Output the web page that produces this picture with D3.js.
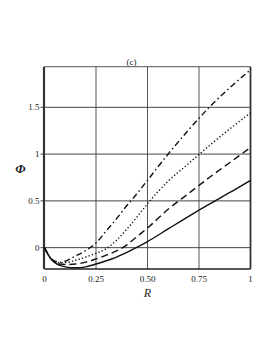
<!DOCTYPE html>
<html>
<head>
<meta charset="utf-8">
<script src="https://cdn.jsdelivr.net/npm/d3@7"></script>
<style>
  body { margin: 0; background: #fff; }
  text { font-family: "Liberation Serif", "DejaVu Serif", serif; fill: #222; }
</style>
</head>
<body>
<div id="content"></div>
<script>
const width = 273;
const height = 353;

// R values shared by the four curves
const rValues = [0, 0.025, 0.05, 0.075, 0.1, 0.15, 0.2, 0.25, 0.3, 0.35, 0.4, 0.45, 0.5, 0.6, 0.7, 0.8, 0.9, 1.0];
const solidPhi = [0, -0.10, -0.16, -0.19, -0.205, -0.215, -0.205, -0.175, -0.14, -0.10, -0.05, 0.005, 0.065, 0.2, 0.335, 0.465, 0.59, 0.72];
const dashedPhi = [0, -0.10, -0.155, -0.175, -0.18, -0.175, -0.155, -0.12, -0.08, -0.035, 0.03, 0.12, 0.21, 0.41, 0.58, 0.75, 0.91, 1.07];
const dottedPhi = [0, -0.10, -0.15, -0.16, -0.16, -0.135, -0.10, -0.06, -0.01, 0.08, 0.2, 0.33, 0.47, 0.71, 0.9, 1.09, 1.27, 1.44];
const dashDotPhi = [0, -0.095, -0.145, -0.155, -0.145, -0.09, -0.03, 0.05, 0.18, 0.31, 0.45, 0.58, 0.72, 1.0, 1.26, 1.5, 1.71, 1.9];

const xTicks = [0, 0.25, 0.5, 0.75, 1];
const xTickLabels = ['0', '0.25', '0.50', '0.75', '1'];
const yTicks = [0, 0.5, 1, 1.5];
const yTickLabels = ['0', '0.5', '1', '1.5'];

const series = [
  { values: solidPhi, dash: null },
  { values: dashedPhi, dash: '7,4' },
  { values: dottedPhi, dash: '1.3,2.2' },
  { values: dashDotPhi, dash: '6,3,1.5,3' }
];

const x = d3.scaleLinear().domain([0, 1]).range([44.5, 250.5]);
const y = d3.scaleLinear().domain([-0.228, 1.934]).range([269, 66.7]);

const svg = d3.select('#content')
  .append('svg')
  .attr('width', width)
  .attr('height', height);

// grid
svg.append('g')
  .selectAll('line')
  .data(xTicks.slice(1, -1))
  .join('line')
  .attr('x1', d => x(d)).attr('x2', d => x(d))
  .attr('y1', y.range()[0]).attr('y2', y.range()[1])
  .attr('stroke', '#555')
  .attr('stroke-width', 1);

svg.append('g')
  .selectAll('line')
  .data(yTicks)
  .join('line')
  .attr('x1', x(0) - 4).attr('x2', x(1))
  .attr('y1', d => y(d)).attr('y2', d => y(d))
  .attr('stroke', '#444')
  .attr('stroke-width', 1);

// frame
svg.append('line')
  .attr('x1', x(0)).attr('x2', x(1))
  .attr('y1', y.range()[1]).attr('y2', y.range()[1])
  .attr('stroke', '#555').attr('stroke-width', 1);
svg.append('line')
  .attr('x1', x(0)).attr('x2', x(1))
  .attr('y1', y.range()[0]).attr('y2', y.range()[0])
  .attr('stroke', '#222').attr('stroke-width', 1.5);
svg.append('line')
  .attr('x1', x(0) - 0.5).attr('x2', x(0) - 0.5)
  .attr('y1', y.range()[0]).attr('y2', y.range()[1])
  .attr('stroke', '#333').attr('stroke-width', 2.2);
svg.append('line')
  .attr('x1', x(1)).attr('x2', x(1))
  .attr('y1', y.range()[0]).attr('y2', y.range()[1])
  .attr('stroke', '#333').attr('stroke-width', 1.8);

// curves
const line = d3.line()
  .x((d, i) => x(rValues[i]))
  .y(d => y(d))
  .curve(d3.curveMonotoneX);

svg.append('g')
  .selectAll('path')
  .data(series)
  .join('path')
  .attr('d', d => line(d.values))
  .attr('fill', 'none')
  .attr('stroke', '#111')
  .attr('stroke-width', 1.4)
  .attr('stroke-dasharray', d => d.dash);

// tick labels
svg.append('g')
  .selectAll('text')
  .data(xTicks)
  .join('text')
  .attr('x', d => x(d))
  .attr('y', 282)
  .attr('text-anchor', 'middle')
  .attr('font-size', 9)
  .text((d, i) => xTickLabels[i]);

svg.append('g')
  .selectAll('text')
  .data(yTicks)
  .join('text')
  .attr('x', 39.5)
  .attr('y', d => y(d) + 3)
  .attr('text-anchor', 'end')
  .attr('font-size', 9)
  .text((d, i) => yTickLabels[i]);

// axis titles
svg.append('text')
  .attr('x', x(0.5))
  .attr('y', 297)
  .attr('text-anchor', 'middle')
  .attr('font-size', 12)
  .attr('font-style', 'italic')
  .text('R');

svg.append('text')
  .attr('x', 20.5)
  .attr('y', 173)
  .attr('text-anchor', 'middle')
  .attr('font-size', 13)
  .attr('font-style', 'italic')
  .attr('font-weight', 'bold')
  .text('Φ');

svg.append('text')
  .attr('x', 131.5)
  .attr('y', 64.5)
  .attr('text-anchor', 'middle')
  .attr('font-size', 9)
  .text('(c)');
</script>
</body>
</html>
